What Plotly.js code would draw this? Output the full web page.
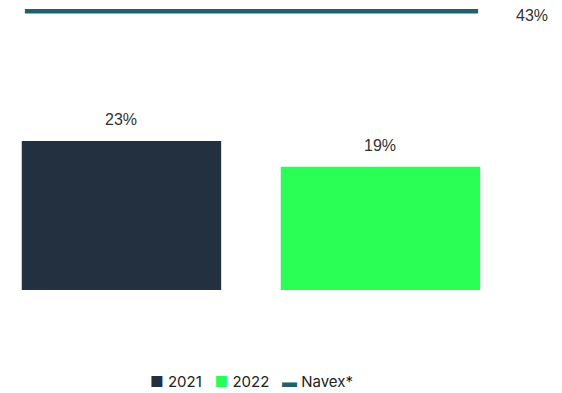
<!DOCTYPE html>
<html>
<head>
<meta charset="utf-8">
<script src="https://cdn.plot.ly/plotly-3.0.1.min.js"></script>
<style>
  html, body { margin: 0; padding: 0; background: #fff; }
  #chart { width: 562px; height: 393px; }
</style>
</head>
<body>
<div id="chart"></div>
<script>
// Yearly values and the benchmark line
const years = ['2021', '2022'];
const values = [23, 19];
const yearColors = ['#223040', '#2AFF56'];
const benchmarkName = 'Navex*';
const benchmarkValue = 43;
const benchmarkColor = '#21616B';

const barWidth = 0.77;
const labelFont = { family: 'Liberation Sans, Arial, sans-serif', size: 16, color: '#333' };
const legendFont = { family: 'Inter, sans-serif', size: 15, color: '#222' };

const traces = years.map((yr, i) => ({
  type: 'bar',
  name: yr,
  x: [i],
  y: [values[i]],
  width: barWidth,
  marker: { color: yearColors[i] },
  hoverinfo: 'skip'
}));

// Benchmark spans roughly the outer edges of the bars
const lineStart = -barWidth / 2 + 0.012;
const lineEnd = years.length - 1 + barWidth / 2 - 0.008;
traces.push({
  type: 'scatter',
  mode: 'lines',
  name: benchmarkName,
  x: [lineStart, lineEnd],
  y: [benchmarkValue, benchmarkValue],
  line: { color: benchmarkColor, width: 4.5 },
  cliponaxis: false,
  hoverinfo: 'skip'
});

const annotations = years.map((yr, i) => ({
  x: i, y: values[i], xref: 'x', yref: 'y',
  text: values[i] + '%',
  showarrow: false, yanchor: 'bottom', yshift: 11,
  font: labelFont
}));

annotations.push({
  x: lineEnd, y: benchmarkValue, xref: 'x', yref: 'y',
  text: benchmarkValue + '%',
  showarrow: false, xanchor: 'left', xshift: 36, yshift: -4,
  font: labelFont
});

// Compact legend row
const gap = '&nbsp;&nbsp;&nbsp;';
const legendText = years.map((yr, i) =>
  `<span style="color:${yearColors[i]}">■</span>&nbsp;${yr}`
).join(gap) + `${gap}<span style="color:${benchmarkColor}">▬</span>&nbsp;${benchmarkName}`;
annotations.push({
  x: 0.447, y: -0.314, xref: 'paper', yref: 'paper',
  text: legendText, showarrow: false,
  xanchor: 'center', yanchor: 'middle',
  font: legendFont
});

const layout = {
  width: 562,
  height: 393,
  margin: { l: 0, r: 0, t: 0, b: 103 },
  paper_bgcolor: '#ffffff',
  plot_bgcolor: '#ffffff',
  showlegend: false,
  xaxis: {
    type: 'linear',
    range: [-0.469, 1.701],
    showgrid: false, zeroline: false, showticklabels: false, ticks: '', showline: false
  },
  yaxis: {
    range: [0, 44.75],
    showgrid: false, zeroline: false, showticklabels: false, ticks: '', showline: false
  },
  annotations: annotations
};

Plotly.newPlot('chart', traces, layout, { displayModeBar: false, staticPlot: true });
</script>
</body>
</html>
